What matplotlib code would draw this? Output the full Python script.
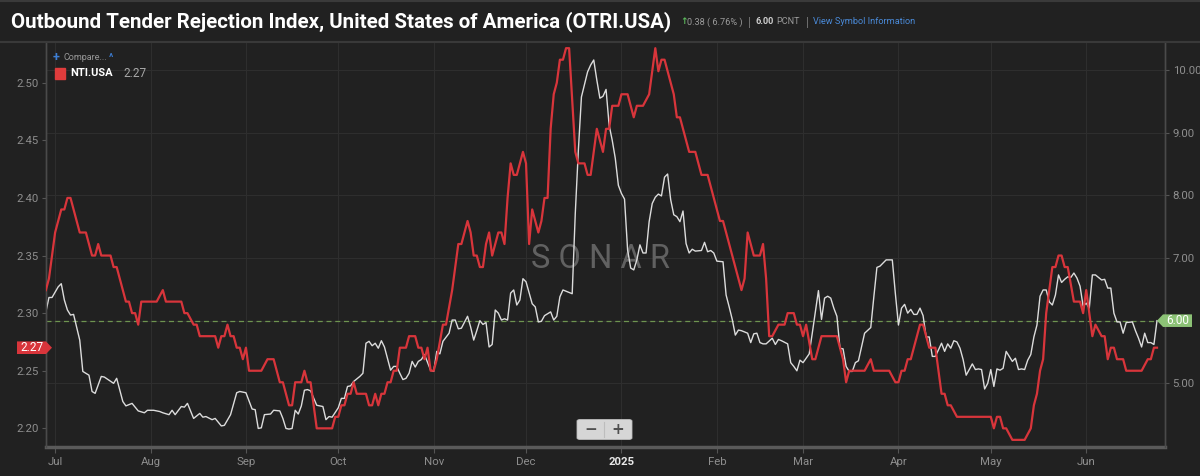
import numpy as np
import pandas as pd
import matplotlib
matplotlib.use("Agg")
import matplotlib.pyplot as plt
from matplotlib.patches import Polygon, FancyBboxPatch
from matplotlib.transforms import IdentityTransform
from matplotlib.lines import Line2D

plt.rcParams['font.family'] = ['Roboto', 'DejaVu Sans']

# ---- data (days counted from 2024-07-01) ----
nti_day = [-3, -2, 0, 2, 3, 4, 5, 8, 10, 12, 13, 14, 15, 18, 19, 20, 23, 24, 25, 26,
           27, 28, 33, 35, 36, 41, 42, 43, 45, 46, 47, 52, 53, 54, 55, 56, 57, 58, 59, 60,
           61, 62, 63, 67, 69, 71, 73, 74, 76, 77, 78, 80, 81, 82, 83, 85, 90, 91, 92, 93,
           94, 95, 96, 97, 98, 101, 102, 103, 104, 105, 106, 107, 108, 109, 110, 111, 112, 114, 115, 117,
           118, 119, 120, 121, 122, 123, 124, 126, 127, 129, 131, 132, 134, 135, 136, 137, 138, 139, 140, 141,
           142, 143, 144, 145, 146, 147, 148, 149, 150, 152, 153, 154, 155, 157, 158, 159, 160, 161, 162, 163,
           164, 165, 166, 167, 169, 170, 172, 173, 174, 176, 178, 179, 180, 181, 183, 184, 186, 188, 189, 191,
           193, 195, 196, 197, 198, 201, 202, 203, 206, 208, 210, 212, 216, 217, 223, 224, 225, 227, 229, 230,
           231, 232, 233, 235, 237, 238, 240, 241, 242, 243, 244, 246, 247, 249, 254, 256, 257, 258, 263, 265,
           266, 271, 273, 274, 275, 276, 277, 278, 279, 281, 282, 284, 286, 288, 289, 290, 291, 293, 304, 305,
           306, 307, 308, 309, 311, 315, 317, 318, 319, 320, 321, 322, 324, 325, 326, 327, 328, 329, 331, 333,
           334, 335, 336, 337, 338, 340, 341, 342, 343, 344, 345, 347, 348, 353, 355, 356, 357, 358]
nti_val = [2.32, 2.33, 2.37, 2.39, 2.39, 2.40, 2.40, 2.37, 2.37, 2.35, 2.35, 2.36, 2.35, 2.35, 2.34, 2.34, 2.31, 2.31, 2.30, 2.30,
           2.29, 2.31, 2.31, 2.32, 2.31, 2.31, 2.30, 2.30, 2.29, 2.29, 2.28, 2.28, 2.27, 2.28, 2.28, 2.29, 2.28, 2.28, 2.27, 2.27,
           2.26, 2.27, 2.25, 2.25, 2.26, 2.26, 2.24, 2.24, 2.22, 2.22, 2.24, 2.24, 2.25, 2.24, 2.24, 2.20, 2.20, 2.21, 2.21, 2.22,
           2.22, 2.23, 2.23, 2.24, 2.23, 2.23, 2.22, 2.22, 2.23, 2.22, 2.23, 2.23, 2.24, 2.24, 2.25, 2.25, 2.27, 2.27, 2.28, 2.28,
           2.27, 2.27, 2.26, 2.27, 2.25, 2.25, 2.26, 2.29, 2.29, 2.32, 2.36, 2.36, 2.38, 2.37, 2.35, 2.35, 2.34, 2.34, 2.36, 2.37,
           2.35, 2.36, 2.37, 2.37, 2.36, 2.40, 2.43, 2.42, 2.42, 2.44, 2.43, 2.36, 2.39, 2.37, 2.38, 2.40, 2.40, 2.46, 2.49, 2.50,
           2.52, 2.52, 2.53, 2.53, 2.44, 2.43, 2.43, 2.42, 2.42, 2.46, 2.44, 2.46, 2.46, 2.48, 2.48, 2.49, 2.49, 2.47, 2.48, 2.48,
           2.49, 2.53, 2.51, 2.52, 2.52, 2.49, 2.47, 2.47, 2.44, 2.44, 2.42, 2.42, 2.38, 2.38, 2.32, 2.33, 2.37, 2.35, 2.35, 2.36,
           2.33, 2.28, 2.28, 2.29, 2.29, 2.30, 2.30, 2.29, 2.29, 2.28, 2.29, 2.26, 2.26, 2.28, 2.28, 2.26, 2.24, 2.25, 2.25, 2.26,
           2.25, 2.25, 2.24, 2.24, 2.25, 2.25, 2.26, 2.26, 2.27, 2.29, 2.29, 2.27, 2.27, 2.23, 2.23, 2.22, 2.22, 2.21, 2.21, 2.20,
           2.21, 2.21, 2.20, 2.20, 2.19, 2.19, 2.20, 2.22, 2.23, 2.25, 2.26, 2.30, 2.34, 2.34, 2.35, 2.35, 2.34, 2.34, 2.31, 2.31,
           2.30, 2.32, 2.30, 2.28, 2.29, 2.28, 2.28, 2.26, 2.27, 2.27, 2.26, 2.26, 2.25, 2.25, 2.26, 2.26, 2.27, 2.27]

otri_day = [-3, -2, -1, 1, 2, 3, 4, 5, 6, 8, 9, 11, 12, 13, 15, 16, 19, 20, 22, 23,
            25, 27, 29, 30, 32, 34, 35, 37, 38, 39, 41, 42, 43, 45, 47, 48, 49, 51, 52, 54,
            55, 57, 59, 60, 62, 64, 65, 66, 67, 68, 70, 71, 73, 74, 75, 76, 77, 78, 79, 80,
            81, 82, 83, 85, 86, 87, 88, 89, 90, 92, 93, 94, 95, 96, 97, 99, 100, 101, 102, 103,
            104, 105, 106, 107, 109, 110, 111, 112, 113, 114, 115, 116, 117, 118, 119, 120, 122, 123, 124, 125,
            126, 128, 129, 130, 131, 132, 134, 135, 136, 137, 138, 139, 140, 141, 142, 143, 144, 145, 146, 147,
            148, 149, 150, 151, 152, 153, 155, 156, 157, 158, 159, 161, 162, 163, 164, 165, 166, 168, 169, 170,
            171, 173, 174, 175, 176, 177, 178, 179, 180, 181, 182, 183, 184, 185, 186, 187, 188, 189, 190, 191,
            192, 193, 194, 195, 196, 197, 198, 199, 200, 201, 202, 203, 204, 205, 206, 207, 208, 210, 211, 212,
            213, 214, 215, 217, 218, 219, 220, 221, 222, 223, 225, 226, 227, 228, 229, 230, 231, 233, 234, 235,
            236, 238, 239, 240, 241, 242, 243, 244, 245, 246, 248, 249, 250, 251, 252, 253, 254, 255, 256, 257,
            258, 259, 260, 261, 262, 263, 265, 266, 267, 268, 270, 272, 273, 274, 275, 276, 277, 278, 279, 280,
            281, 282, 283, 284, 285, 286, 288, 289, 290, 291, 292, 293, 294, 295, 296, 298, 299, 300, 301, 302,
            303, 304, 305, 306, 307, 308, 309, 311, 312, 313, 314, 315, 316, 317, 318, 319, 320, 321, 322, 323,
            324, 325, 326, 327, 328, 329, 330, 331, 332, 333, 334, 335, 336, 337, 338, 340, 341, 342, 343, 344,
            345, 346, 347, 348, 350, 351, 352, 353, 354, 355, 356, 357, 358]
otri_val = [6.14, 6.37, 6.37, 6.54, 6.59, 6.33, 6.17, 6.09, 6.10, 5.69, 5.19, 5.13, 4.87, 4.84, 5.11, 5.10, 5.00, 5.08, 4.71, 4.64,
            4.68, 4.56, 4.53, 4.57, 4.57, 4.55, 4.53, 4.50, 4.57, 4.50, 4.63, 4.62, 4.68, 4.44, 4.52, 4.46, 4.47, 4.42, 4.44, 4.32,
            4.33, 4.50, 4.85, 4.87, 4.85, 4.59, 4.58, 4.28, 4.29, 4.50, 4.51, 4.57, 4.56, 4.44, 4.28, 4.27, 4.28, 4.57, 4.51, 4.64,
            4.89, 4.90, 4.88, 4.65, 4.64, 4.63, 4.42, 4.47, 4.46, 4.61, 4.76, 4.76, 4.95, 4.96, 5.03, 5.11, 5.16, 5.64, 5.67, 5.60,
            5.64, 5.56, 5.68, 5.58, 5.21, 5.27, 5.27, 5.16, 5.06, 5.08, 5.16, 5.35, 5.26, 5.35, 5.38, 5.46, 5.21, 5.19, 5.51, 5.47,
            5.67, 5.80, 6.01, 6.01, 5.87, 5.88, 6.07, 5.90, 5.69, 5.84, 6.00, 5.94, 5.97, 5.58, 5.62, 6.17, 6.12, 6.01, 6.03, 6.01,
            6.44, 6.49, 6.25, 6.33, 6.67, 6.62, 6.27, 6.22, 5.98, 5.99, 6.08, 6.14, 6.01, 6.07, 6.38, 6.49, 6.47, 6.43, 7.71, 8.72,
            9.57, 9.97, 10.08, 10.16, 9.84, 9.55, 9.58, 9.69, 9.12, 8.88, 8.59, 8.16, 8.03, 7.94, 7.13, 6.84, 6.81, 6.97, 7.21, 7.08,
            7.08, 7.58, 7.87, 7.97, 8.02, 7.99, 8.29, 8.34, 7.93, 7.69, 7.66, 7.58, 7.75, 7.23, 7.08, 7.14, 7.11, 7.12, 7.25, 7.10,
            7.12, 7.08, 6.95, 6.94, 6.41, 6.22, 6.02, 5.77, 5.85, 5.84, 5.80, 5.65, 5.79, 5.80, 5.65, 5.63, 5.63, 5.72, 5.62, 5.70,
            5.68, 5.63, 5.33, 5.27, 5.20, 5.37, 5.33, 5.40, 5.47, 5.80, 6.48, 6.02, 6.36, 6.39, 6.36, 6.20, 6.07, 5.56, 5.55, 5.27,
            5.19, 5.19, 5.33, 5.36, 5.58, 5.80, 5.89, 6.38, 6.85, 6.87, 6.97, 6.97, 6.43, 5.93, 6.20, 6.26, 6.12, 6.18, 6.10, 6.10,
            6.20, 6.08, 5.74, 5.74, 5.43, 5.43, 5.64, 5.51, 5.63, 5.56, 5.68, 5.66, 5.56, 5.38, 5.13, 5.31, 5.22, 5.23, 5.22, 4.91,
            5.00, 5.22, 4.95, 5.23, 5.21, 5.24, 5.51, 5.35, 5.40, 5.22, 5.23, 5.22, 5.37, 5.46, 5.74, 5.93, 6.39, 6.49, 6.49, 6.30,
            6.25, 6.41, 6.73, 6.61, 6.66, 6.70, 6.69, 6.76, 6.68, 6.55, 6.23, 6.28, 6.20, 6.73, 6.73, 6.65, 6.66, 6.52, 6.52, 6.12,
            5.98, 5.98, 5.80, 5.97, 5.98, 5.84, 5.72, 5.58, 5.80, 5.65, 5.65, 5.62, 6.00]

month_labels = ['Jul', 'Aug', 'Sep', 'Oct', 'Nov', 'Dec', '2025', 'Feb', 'Mar', 'Apr', 'May', 'Jun']
left_ticks = [2.20, 2.25, 2.30, 2.35, 2.40, 2.45, 2.50]
right_ticks = [5.0, 6.0, 7.0, 8.0, 9.0, 10.0]

title = 'Outbound Tender Rejection Index, United States of America (OTRI.USA)'
change_text = '0.38 ( 6.76% )'
last_text = '6.00'

# ---- styling ----
BG = '#212121'
GRID = '#2e2e2e'
TICK = '#8e8e8e'
RED = '#d8353b'
WHITE = '#dcdcdc'
GREEN = '#8cc276'

start = pd.Timestamp('2024-07-01')
nti_dates = start + pd.to_timedelta(nti_day, unit='D')
otri_dates = start + pd.to_timedelta(otri_day, unit='D')
months = pd.date_range('2024-07-01', periods=len(month_labels), freq='MS')

W, H = 1200, 476
fig = plt.figure(figsize=(W / 100, H / 100), dpi=100, facecolor=BG)


def fx(px):
    return px / W


def fy(py):
    return 1 - py / H


# main axes carries OTRI (right scale), twin carries NTI (left scale) so red is on top
ax = fig.add_axes([fx(46), fy(447), fx(1165 - 46), (447 - 43) / H])
ax.set_facecolor(BG)
ax_l = ax.twinx()

ax.plot(otri_dates, otri_val, color=WHITE, lw=1.0, zorder=3)
ax_l.plot(nti_dates, nti_val, color=RED, lw=1.6, zorder=3)

ax.set_xlim(start - pd.Timedelta(days=2.96), start + pd.Timedelta(days=360.6))
ax.set_ylim(3.984, 10.431)
ax_l.set_ylim(2.1838, 2.5345)

# right axis (OTRI)
ax.yaxis.tick_right()
ax.set_yticks(right_ticks)
ax.set_yticklabels(['' if abs(v - 6.0) < 1e-9 else f'{v:.2f}' for v in right_ticks])
ax.axhline(float(last_text), color='#6e9450', lw=0.9, ls=(0, (4, 3)), zorder=2)

# left axis (NTI)
ax_l.yaxis.tick_left()
ax_l.set_yticks(left_ticks)
ax_l.set_yticklabels([f'{v:.2f}' for v in left_ticks])

ax.set_xticks(months)
ax.set_xticklabels(month_labels)

for a in (ax, ax_l):
    a.tick_params(axis='both', colors='#555555', labelcolor=TICK, labelsize=8.2, length=3, width=0.8, pad=2.5)
    for s in a.spines.values():
        s.set_color('#4a4a4a')
        s.set_linewidth(1.0)
    a.spines['top'].set_visible(False)
ax.tick_params(axis='x', length=4, pad=3)
for lab in ax.get_xticklabels():
    if lab.get_text() == '2025':
        lab.set_color('#e8e8e8')
        lab.set_fontweight('bold')
ax.spines['bottom'].set_color('#5a5a5a')
ax.spines['bottom'].set_linewidth(2.5)
ax_l.spines['bottom'].set_visible(False)

ax.grid(True, color=GRID, lw=0.8, zorder=0)
ax.set_axisbelow(True)

# watermark
ax.text(0.4955, 1 - (259 - 43) / (447 - 43), 'S O N A R', transform=ax.transAxes,
        ha='center', va='center', fontsize=23.5, color='#616161', zorder=1)

# header band
fig.add_artist(Line2D([0, 1], [fy(42), fy(42)], color='#393939', lw=1.5))
fig.add_artist(Line2D([0, 1], [fy(0.5), fy(0.5)], color='#3a3a3a', lw=1.5))
fig.text(fx(11), fy(22), title, color='white', fontsize=14.8, fontweight='bold', va='center')
fig.text(fx(680), fy(22), '↑', color='#5cb85c', fontsize=6.5, fontweight='bold', va='center',
         family=['DejaVu Sans'])
fig.text(fx(687), fy(22), change_text, color='#9a9a9a', fontsize=6.6, va='center')
fig.text(fx(748), fy(22), '|', color='#777777', fontsize=9, va='center')
fig.text(fx(756), fy(22), last_text, color='#d0d0d0', fontsize=6.6, fontweight='bold', va='center')
fig.text(fx(776), fy(22), 'PCNT', color='#9a9a9a', fontsize=6.6, va='center')
fig.text(fx(806), fy(22), '|', color='#777777', fontsize=9, va='center')
fig.text(fx(813), fy(22), 'View Symbol Information', color='#4a8ad8', fontsize=6.6, va='center')

# compare / legend block
fig.text(fx(53), fy(57), '+', color='#3d7fd6', fontsize=9, fontweight='bold', va='center')
fig.text(fx(64), fy(57), 'Compare...', color='#9a9a9a', fontsize=6.5, va='center')
fig.text(fx(109), fy(58), '^', color='#3d7fd6', fontsize=7, fontweight='bold', va='center')
fig.add_artist(plt.Rectangle((fx(55), fy(78.5)), fx(10), 10 / H, color='#e03c3c', transform=fig.transFigure))
fig.text(fx(70), fy(73.5), 'NTI.USA', color='white', fontsize=8, fontweight='bold', va='center')
fig.text(fx(123), fy(73.5), f'{nti_val[-1]:.2f}', color='#a8a8a8', fontsize=8.5, va='center')

# last-value tags
fig.canvas.draw()
y_red = ax_l.transData.transform((0, nti_val[-1]))[1]
red_tag = Polygon([(17, y_red - 6.3), (46, y_red - 6.3), (52, y_red), (46, y_red + 6.3), (17, y_red + 6.3)],
                  closed=True, fc='#d8353b', ec='none', transform=IdentityTransform())
fig.add_artist(red_tag)
fig.text(32 / W, y_red / H, f'{nti_val[-1]:.2f}', color='white', fontsize=8.5, ha='center', va='center')

y_grn = ax.transData.transform((0, otri_val[-1]))[1]
grn_tag = Polygon([(1157, y_grn), (1163, y_grn - 6.3), (1192, y_grn - 6.3), (1192, y_grn + 6.3), (1163, y_grn + 6.3)],
                  closed=True, fc=GREEN, ec='none', transform=IdentityTransform())
fig.add_artist(grn_tag)
fig.text(1178 / W, y_grn / H, last_text, color='white', fontsize=8.5, ha='center', va='center')

# zoom buttons
btn = FancyBboxPatch((fx(577), fy(439.5)), fx(55), 20 / H, boxstyle='round,pad=0,rounding_size=0.003',
                     fc='#d6d6d6', ec='#bcbcbc', lw=0.6, transform=fig.transFigure)
fig.add_artist(btn)
fig.add_artist(Line2D([fx(604), fx(604)], [fy(437), fy(422)], color='#bdbdbd', lw=0.8))
fig.text(fx(590.5), fy(429.5), '−', color='#505050', fontsize=11, fontweight='bold', ha='center', va='center',
         family=['DejaVu Sans'])
fig.text(fx(618), fy(429.5), '+', color='#505050', fontsize=11, fontweight='bold', ha='center', va='center',
         family=['DejaVu Sans'])

fig.savefig('out.png', dpi=100, facecolor=BG)
